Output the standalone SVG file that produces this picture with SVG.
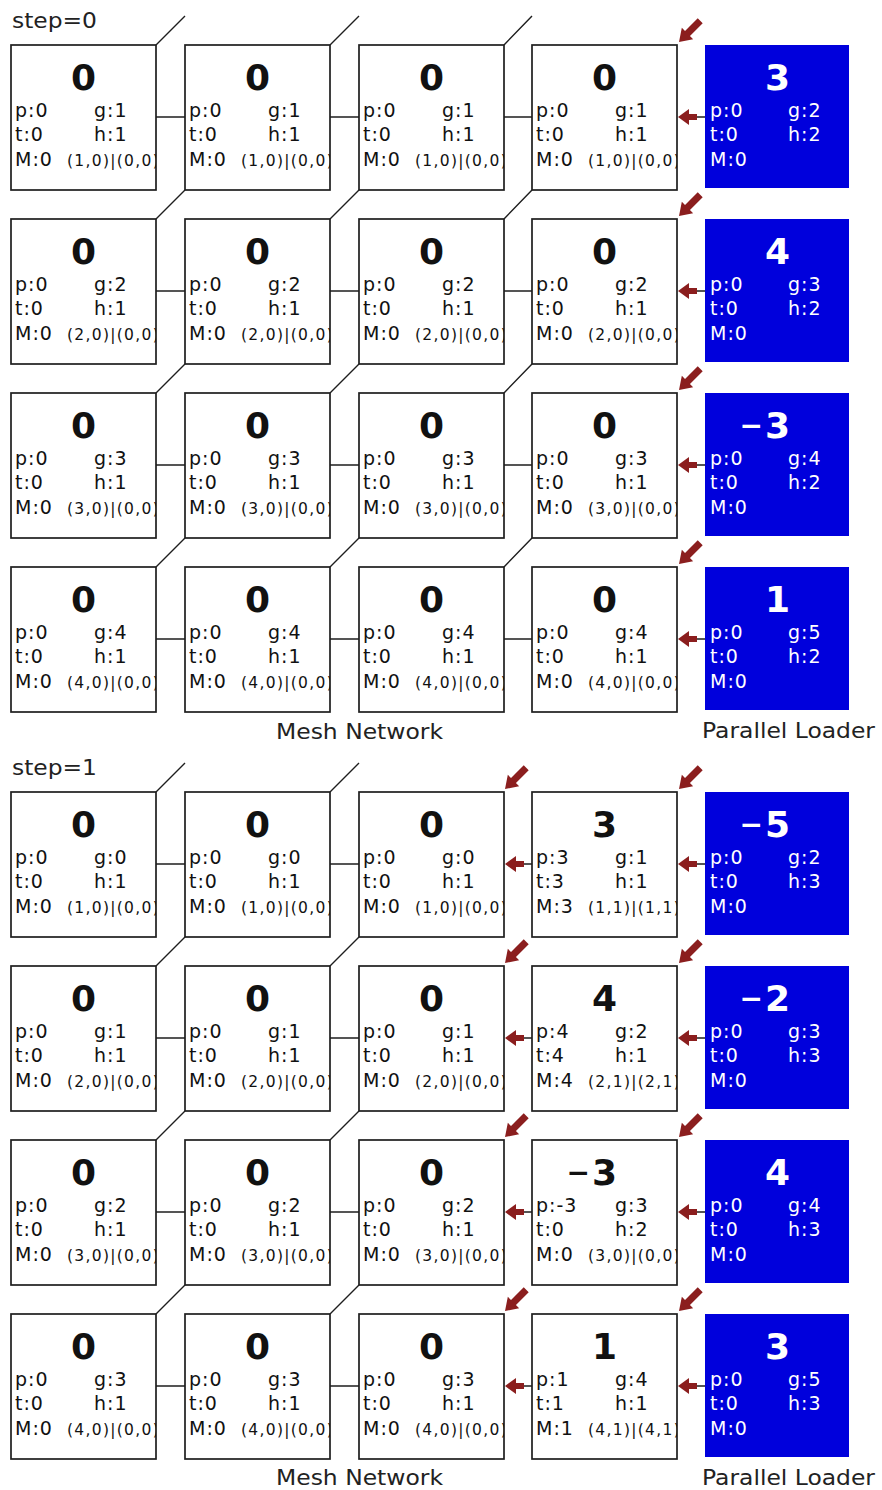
<svg xmlns="http://www.w3.org/2000/svg" xmlns:xlink="http://www.w3.org/1999/xlink" width="882" height="1490" viewBox="0 0 882 1490">
<style>
.box{fill:#fff;stroke:#1e1e1e;stroke-width:1.7}
.ld{fill:#0000dc}
.big{font-family:"DejaVu Sans",sans-serif;font-weight:bold;font-size:36px;text-anchor:end;fill:#111}
.mn{font-size:28px}
.t{font-family:"DejaVu Sans",sans-serif;font-size:19px;letter-spacing:1px;fill:#111}
.c{font-family:"DejaVu Sans",sans-serif;font-size:15.5px;letter-spacing:1.3px;fill:#111}
.w{fill:#fff}
.lbl{font-family:"DejaVu Sans",sans-serif;font-size:21px;fill:#222}
.ln{stroke:#1e1e1e;stroke-width:1.4;fill:none}
</style>
<defs>
<clipPath id="cl"><rect x="0" y="0" width="145" height="145"/></clipPath>
<path id="ah" fill="#8b1e1e" d="M0,0 L11,-8 L11,-3 L19,-3 L19,3 L11,3 L11,8Z"/>
<path id="ad" fill="#8b1e1e" d="M0,0 L12,-8 L12,-3.5 L30,-3.5 L30,3.5 L12,3.5 L12,8Z"/>
</defs>
<rect width="882" height="1490" fill="#fff"/>

<text class="lbl" x="12" y="28" textLength="85" lengthAdjust="spacingAndGlyphs">step=0</text>
<text class="lbl" x="12" y="775" textLength="85" lengthAdjust="spacingAndGlyphs">step=1</text>
<text class="lbl" x="276" y="739" textLength="167" lengthAdjust="spacingAndGlyphs">Mesh Network</text>
<text class="lbl" x="702" y="738" textLength="173" lengthAdjust="spacingAndGlyphs">Parallel Loader</text>
<text class="lbl" x="276" y="1485" textLength="167" lengthAdjust="spacingAndGlyphs">Mesh Network</text>
<text class="lbl" x="702" y="1485" textLength="173" lengthAdjust="spacingAndGlyphs">Parallel Loader</text>

<g id="connectors">
<path class="ln" d="M156,117H185 M330,117H359 M504,117H532 M156,45L185,16 M330,45L359,16 M504,45L532,16 M697,117H705
M156,291H185 M330,291H359 M504,291H532 M156,219L185,190 M330,219L359,190 M504,219L532,190 M697,291H705
M156,465H185 M330,465H359 M504,465H532 M156,393L185,364 M330,393L359,364 M504,393L532,364 M697,465H705
M156,639H185 M330,639H359 M504,639H532 M156,567L185,538 M330,567L359,538 M504,567L532,538 M697,639H705"/>
<path class="ln" d="M156,864H185 M330,864H359 M524,864H532 M697,864H705 M156,792L185,763 M330,792L359,763
M156,1038H185 M330,1038H359 M524,1038H532 M697,1038H705 M156,966L185,937 M330,966L359,937
M156,1212H185 M330,1212H359 M524,1212H532 M697,1212H705 M156,1140L185,1111 M330,1140L359,1111
M156,1386H185 M330,1386H359 M524,1386H532 M697,1386H705 M156,1314L185,1285 M330,1314L359,1285"/>
<use xlink:href="#ad" transform="translate(679,42) rotate(-45)"/>
<use xlink:href="#ad" transform="translate(679,216) rotate(-45)"/>
<use xlink:href="#ad" transform="translate(679,390) rotate(-45)"/>
<use xlink:href="#ad" transform="translate(679,564) rotate(-45)"/>
<use xlink:href="#ah" transform="translate(678,117)"/>
<use xlink:href="#ah" transform="translate(678,291)"/>
<use xlink:href="#ah" transform="translate(678,465)"/>
<use xlink:href="#ah" transform="translate(678,639)"/>
<use xlink:href="#ad" transform="translate(505,789) rotate(-45)"/>
<use xlink:href="#ad" transform="translate(679,789) rotate(-45)"/>
<use xlink:href="#ad" transform="translate(505,963) rotate(-45)"/>
<use xlink:href="#ad" transform="translate(679,963) rotate(-45)"/>
<use xlink:href="#ad" transform="translate(505,1137) rotate(-45)"/>
<use xlink:href="#ad" transform="translate(679,1137) rotate(-45)"/>
<use xlink:href="#ad" transform="translate(505,1311) rotate(-45)"/>
<use xlink:href="#ad" transform="translate(679,1311) rotate(-45)"/>
<use xlink:href="#ah" transform="translate(505,864)"/>
<use xlink:href="#ah" transform="translate(678,864)"/>
<use xlink:href="#ah" transform="translate(505,1038)"/>
<use xlink:href="#ah" transform="translate(678,1038)"/>
<use xlink:href="#ah" transform="translate(505,1212)"/>
<use xlink:href="#ah" transform="translate(678,1212)"/>
<use xlink:href="#ah" transform="translate(505,1386)"/>
<use xlink:href="#ah" transform="translate(678,1386)"/>
</g>

<!-- step 0 -->
<g id="s0-r0-c0" transform="translate(11,45)"><rect class="box" width="145" height="145"/><text class="big" x="85" y="45">0</text><text class="t" x="4" y="72">p:0</text><text class="t" x="83" y="72">g:1</text><text class="t" x="4" y="96">t:0</text><text class="t" x="83" y="96">h:1</text><text class="t" x="4" y="120.5">M:0</text><text class="c" x="56" y="120.5" clip-path="url(#cl)">(1,0)|(0,0)</text></g>
<g id="s0-r0-c1" transform="translate(185,45)"><rect class="box" width="145" height="145"/><text class="big" x="85" y="45">0</text><text class="t" x="4" y="72">p:0</text><text class="t" x="83" y="72">g:1</text><text class="t" x="4" y="96">t:0</text><text class="t" x="83" y="96">h:1</text><text class="t" x="4" y="120.5">M:0</text><text class="c" x="56" y="120.5" clip-path="url(#cl)">(1,0)|(0,0)</text></g>
<g id="s0-r0-c2" transform="translate(359,45)"><rect class="box" width="145" height="145"/><text class="big" x="85" y="45">0</text><text class="t" x="4" y="72">p:0</text><text class="t" x="83" y="72">g:1</text><text class="t" x="4" y="96">t:0</text><text class="t" x="83" y="96">h:1</text><text class="t" x="4" y="120.5">M:0</text><text class="c" x="56" y="120.5" clip-path="url(#cl)">(1,0)|(0,0)</text></g>
<g id="s0-r0-c3" transform="translate(532,45)"><rect class="box" width="145" height="145"/><text class="big" x="85" y="45">0</text><text class="t" x="4" y="72">p:0</text><text class="t" x="83" y="72">g:1</text><text class="t" x="4" y="96">t:0</text><text class="t" x="83" y="96">h:1</text><text class="t" x="4" y="120.5">M:0</text><text class="c" x="56" y="120.5" clip-path="url(#cl)">(1,0)|(0,0)</text></g>
<g id="s0-r0-ld" transform="translate(705,45)"><rect class="ld" width="144" height="143"/><text class="big w" x="85" y="45">3</text><text class="t w" x="5" y="72">p:0</text><text class="t w" x="83" y="72">g:2</text><text class="t w" x="5" y="96">t:0</text><text class="t w" x="83" y="96">h:2</text><text class="t w" x="5" y="120.5">M:0</text></g>

<g id="s0-r1-c0" transform="translate(11,219)"><rect class="box" width="145" height="145"/><text class="big" x="85" y="45">0</text><text class="t" x="4" y="72">p:0</text><text class="t" x="83" y="72">g:2</text><text class="t" x="4" y="96">t:0</text><text class="t" x="83" y="96">h:1</text><text class="t" x="4" y="120.5">M:0</text><text class="c" x="56" y="120.5" clip-path="url(#cl)">(2,0)|(0,0)</text></g>
<g id="s0-r1-c1" transform="translate(185,219)"><rect class="box" width="145" height="145"/><text class="big" x="85" y="45">0</text><text class="t" x="4" y="72">p:0</text><text class="t" x="83" y="72">g:2</text><text class="t" x="4" y="96">t:0</text><text class="t" x="83" y="96">h:1</text><text class="t" x="4" y="120.5">M:0</text><text class="c" x="56" y="120.5" clip-path="url(#cl)">(2,0)|(0,0)</text></g>
<g id="s0-r1-c2" transform="translate(359,219)"><rect class="box" width="145" height="145"/><text class="big" x="85" y="45">0</text><text class="t" x="4" y="72">p:0</text><text class="t" x="83" y="72">g:2</text><text class="t" x="4" y="96">t:0</text><text class="t" x="83" y="96">h:1</text><text class="t" x="4" y="120.5">M:0</text><text class="c" x="56" y="120.5" clip-path="url(#cl)">(2,0)|(0,0)</text></g>
<g id="s0-r1-c3" transform="translate(532,219)"><rect class="box" width="145" height="145"/><text class="big" x="85" y="45">0</text><text class="t" x="4" y="72">p:0</text><text class="t" x="83" y="72">g:2</text><text class="t" x="4" y="96">t:0</text><text class="t" x="83" y="96">h:1</text><text class="t" x="4" y="120.5">M:0</text><text class="c" x="56" y="120.5" clip-path="url(#cl)">(2,0)|(0,0)</text></g>
<g id="s0-r1-ld" transform="translate(705,219)"><rect class="ld" width="144" height="143"/><text class="big w" x="85" y="45">4</text><text class="t w" x="5" y="72">p:0</text><text class="t w" x="83" y="72">g:3</text><text class="t w" x="5" y="96">t:0</text><text class="t w" x="83" y="96">h:2</text><text class="t w" x="5" y="120.5">M:0</text></g>

<g id="s0-r2-c0" transform="translate(11,393)"><rect class="box" width="145" height="145"/><text class="big" x="85" y="45">0</text><text class="t" x="4" y="72">p:0</text><text class="t" x="83" y="72">g:3</text><text class="t" x="4" y="96">t:0</text><text class="t" x="83" y="96">h:1</text><text class="t" x="4" y="120.5">M:0</text><text class="c" x="56" y="120.5" clip-path="url(#cl)">(3,0)|(0,0)</text></g>
<g id="s0-r2-c1" transform="translate(185,393)"><rect class="box" width="145" height="145"/><text class="big" x="85" y="45">0</text><text class="t" x="4" y="72">p:0</text><text class="t" x="83" y="72">g:3</text><text class="t" x="4" y="96">t:0</text><text class="t" x="83" y="96">h:1</text><text class="t" x="4" y="120.5">M:0</text><text class="c" x="56" y="120.5" clip-path="url(#cl)">(3,0)|(0,0)</text></g>
<g id="s0-r2-c2" transform="translate(359,393)"><rect class="box" width="145" height="145"/><text class="big" x="85" y="45">0</text><text class="t" x="4" y="72">p:0</text><text class="t" x="83" y="72">g:3</text><text class="t" x="4" y="96">t:0</text><text class="t" x="83" y="96">h:1</text><text class="t" x="4" y="120.5">M:0</text><text class="c" x="56" y="120.5" clip-path="url(#cl)">(3,0)|(0,0)</text></g>
<g id="s0-r2-c3" transform="translate(532,393)"><rect class="box" width="145" height="145"/><text class="big" x="85" y="45">0</text><text class="t" x="4" y="72">p:0</text><text class="t" x="83" y="72">g:3</text><text class="t" x="4" y="96">t:0</text><text class="t" x="83" y="96">h:1</text><text class="t" x="4" y="120.5">M:0</text><text class="c" x="56" y="120.5" clip-path="url(#cl)">(3,0)|(0,0)</text></g>
<g id="s0-r2-ld" transform="translate(705,393)"><rect class="ld" width="144" height="143"/><text class="big w" x="85" y="45"><tspan class="mn" dy="-3">−</tspan><tspan dy="3" dx="2">3</tspan></text><text class="t w" x="5" y="72">p:0</text><text class="t w" x="83" y="72">g:4</text><text class="t w" x="5" y="96">t:0</text><text class="t w" x="83" y="96">h:2</text><text class="t w" x="5" y="120.5">M:0</text></g>

<g id="s0-r3-c0" transform="translate(11,567)"><rect class="box" width="145" height="145"/><text class="big" x="85" y="45">0</text><text class="t" x="4" y="72">p:0</text><text class="t" x="83" y="72">g:4</text><text class="t" x="4" y="96">t:0</text><text class="t" x="83" y="96">h:1</text><text class="t" x="4" y="120.5">M:0</text><text class="c" x="56" y="120.5" clip-path="url(#cl)">(4,0)|(0,0)</text></g>
<g id="s0-r3-c1" transform="translate(185,567)"><rect class="box" width="145" height="145"/><text class="big" x="85" y="45">0</text><text class="t" x="4" y="72">p:0</text><text class="t" x="83" y="72">g:4</text><text class="t" x="4" y="96">t:0</text><text class="t" x="83" y="96">h:1</text><text class="t" x="4" y="120.5">M:0</text><text class="c" x="56" y="120.5" clip-path="url(#cl)">(4,0)|(0,0)</text></g>
<g id="s0-r3-c2" transform="translate(359,567)"><rect class="box" width="145" height="145"/><text class="big" x="85" y="45">0</text><text class="t" x="4" y="72">p:0</text><text class="t" x="83" y="72">g:4</text><text class="t" x="4" y="96">t:0</text><text class="t" x="83" y="96">h:1</text><text class="t" x="4" y="120.5">M:0</text><text class="c" x="56" y="120.5" clip-path="url(#cl)">(4,0)|(0,0)</text></g>
<g id="s0-r3-c3" transform="translate(532,567)"><rect class="box" width="145" height="145"/><text class="big" x="85" y="45">0</text><text class="t" x="4" y="72">p:0</text><text class="t" x="83" y="72">g:4</text><text class="t" x="4" y="96">t:0</text><text class="t" x="83" y="96">h:1</text><text class="t" x="4" y="120.5">M:0</text><text class="c" x="56" y="120.5" clip-path="url(#cl)">(4,0)|(0,0)</text></g>
<g id="s0-r3-ld" transform="translate(705,567)"><rect class="ld" width="144" height="143"/><text class="big w" x="85" y="45">1</text><text class="t w" x="5" y="72">p:0</text><text class="t w" x="83" y="72">g:5</text><text class="t w" x="5" y="96">t:0</text><text class="t w" x="83" y="96">h:2</text><text class="t w" x="5" y="120.5">M:0</text></g>

<!-- step 1 -->
<g id="s1-r0-c0" transform="translate(11,792)"><rect class="box" width="145" height="145"/><text class="big" x="85" y="45">0</text><text class="t" x="4" y="72">p:0</text><text class="t" x="83" y="72">g:0</text><text class="t" x="4" y="96">t:0</text><text class="t" x="83" y="96">h:1</text><text class="t" x="4" y="120.5">M:0</text><text class="c" x="56" y="120.5" clip-path="url(#cl)">(1,0)|(0,0)</text></g>
<g id="s1-r0-c1" transform="translate(185,792)"><rect class="box" width="145" height="145"/><text class="big" x="85" y="45">0</text><text class="t" x="4" y="72">p:0</text><text class="t" x="83" y="72">g:0</text><text class="t" x="4" y="96">t:0</text><text class="t" x="83" y="96">h:1</text><text class="t" x="4" y="120.5">M:0</text><text class="c" x="56" y="120.5" clip-path="url(#cl)">(1,0)|(0,0)</text></g>
<g id="s1-r0-c2" transform="translate(359,792)"><rect class="box" width="145" height="145"/><text class="big" x="85" y="45">0</text><text class="t" x="4" y="72">p:0</text><text class="t" x="83" y="72">g:0</text><text class="t" x="4" y="96">t:0</text><text class="t" x="83" y="96">h:1</text><text class="t" x="4" y="120.5">M:0</text><text class="c" x="56" y="120.5" clip-path="url(#cl)">(1,0)|(0,0)</text></g>
<g id="s1-r0-c3" transform="translate(532,792)"><rect class="box" width="145" height="145"/><text class="big" x="85" y="45">3</text><text class="t" x="4" y="72">p:3</text><text class="t" x="83" y="72">g:1</text><text class="t" x="4" y="96">t:3</text><text class="t" x="83" y="96">h:1</text><text class="t" x="4" y="120.5">M:3</text><text class="c" x="56" y="120.5" clip-path="url(#cl)">(1,1)|(1,1)</text></g>
<g id="s1-r0-ld" transform="translate(705,792)"><rect class="ld" width="144" height="143"/><text class="big w" x="85" y="45"><tspan class="mn" dy="-3">−</tspan><tspan dy="3" dx="2">5</tspan></text><text class="t w" x="5" y="72">p:0</text><text class="t w" x="83" y="72">g:2</text><text class="t w" x="5" y="96">t:0</text><text class="t w" x="83" y="96">h:3</text><text class="t w" x="5" y="120.5">M:0</text></g>

<g id="s1-r1-c0" transform="translate(11,966)"><rect class="box" width="145" height="145"/><text class="big" x="85" y="45">0</text><text class="t" x="4" y="72">p:0</text><text class="t" x="83" y="72">g:1</text><text class="t" x="4" y="96">t:0</text><text class="t" x="83" y="96">h:1</text><text class="t" x="4" y="120.5">M:0</text><text class="c" x="56" y="120.5" clip-path="url(#cl)">(2,0)|(0,0)</text></g>
<g id="s1-r1-c1" transform="translate(185,966)"><rect class="box" width="145" height="145"/><text class="big" x="85" y="45">0</text><text class="t" x="4" y="72">p:0</text><text class="t" x="83" y="72">g:1</text><text class="t" x="4" y="96">t:0</text><text class="t" x="83" y="96">h:1</text><text class="t" x="4" y="120.5">M:0</text><text class="c" x="56" y="120.5" clip-path="url(#cl)">(2,0)|(0,0)</text></g>
<g id="s1-r1-c2" transform="translate(359,966)"><rect class="box" width="145" height="145"/><text class="big" x="85" y="45">0</text><text class="t" x="4" y="72">p:0</text><text class="t" x="83" y="72">g:1</text><text class="t" x="4" y="96">t:0</text><text class="t" x="83" y="96">h:1</text><text class="t" x="4" y="120.5">M:0</text><text class="c" x="56" y="120.5" clip-path="url(#cl)">(2,0)|(0,0)</text></g>
<g id="s1-r1-c3" transform="translate(532,966)"><rect class="box" width="145" height="145"/><text class="big" x="85" y="45">4</text><text class="t" x="4" y="72">p:4</text><text class="t" x="83" y="72">g:2</text><text class="t" x="4" y="96">t:4</text><text class="t" x="83" y="96">h:1</text><text class="t" x="4" y="120.5">M:4</text><text class="c" x="56" y="120.5" clip-path="url(#cl)">(2,1)|(2,1)</text></g>
<g id="s1-r1-ld" transform="translate(705,966)"><rect class="ld" width="144" height="143"/><text class="big w" x="85" y="45"><tspan class="mn" dy="-3">−</tspan><tspan dy="3" dx="2">2</tspan></text><text class="t w" x="5" y="72">p:0</text><text class="t w" x="83" y="72">g:3</text><text class="t w" x="5" y="96">t:0</text><text class="t w" x="83" y="96">h:3</text><text class="t w" x="5" y="120.5">M:0</text></g>

<g id="s1-r2-c0" transform="translate(11,1140)"><rect class="box" width="145" height="145"/><text class="big" x="85" y="45">0</text><text class="t" x="4" y="72">p:0</text><text class="t" x="83" y="72">g:2</text><text class="t" x="4" y="96">t:0</text><text class="t" x="83" y="96">h:1</text><text class="t" x="4" y="120.5">M:0</text><text class="c" x="56" y="120.5" clip-path="url(#cl)">(3,0)|(0,0)</text></g>
<g id="s1-r2-c1" transform="translate(185,1140)"><rect class="box" width="145" height="145"/><text class="big" x="85" y="45">0</text><text class="t" x="4" y="72">p:0</text><text class="t" x="83" y="72">g:2</text><text class="t" x="4" y="96">t:0</text><text class="t" x="83" y="96">h:1</text><text class="t" x="4" y="120.5">M:0</text><text class="c" x="56" y="120.5" clip-path="url(#cl)">(3,0)|(0,0)</text></g>
<g id="s1-r2-c2" transform="translate(359,1140)"><rect class="box" width="145" height="145"/><text class="big" x="85" y="45">0</text><text class="t" x="4" y="72">p:0</text><text class="t" x="83" y="72">g:2</text><text class="t" x="4" y="96">t:0</text><text class="t" x="83" y="96">h:1</text><text class="t" x="4" y="120.5">M:0</text><text class="c" x="56" y="120.5" clip-path="url(#cl)">(3,0)|(0,0)</text></g>
<g id="s1-r2-c3" transform="translate(532,1140)"><rect class="box" width="145" height="145"/><text class="big" x="85" y="45"><tspan class="mn" dy="-3">−</tspan><tspan dy="3" dx="2">3</tspan></text><text class="t" x="4" y="72">p:-3</text><text class="t" x="83" y="72">g:3</text><text class="t" x="4" y="96">t:0</text><text class="t" x="83" y="96">h:2</text><text class="t" x="4" y="120.5">M:0</text><text class="c" x="56" y="120.5" clip-path="url(#cl)">(3,0)|(0,0)</text></g>
<g id="s1-r2-ld" transform="translate(705,1140)"><rect class="ld" width="144" height="143"/><text class="big w" x="85" y="45">4</text><text class="t w" x="5" y="72">p:0</text><text class="t w" x="83" y="72">g:4</text><text class="t w" x="5" y="96">t:0</text><text class="t w" x="83" y="96">h:3</text><text class="t w" x="5" y="120.5">M:0</text></g>

<g id="s1-r3-c0" transform="translate(11,1314)"><rect class="box" width="145" height="145"/><text class="big" x="85" y="45">0</text><text class="t" x="4" y="72">p:0</text><text class="t" x="83" y="72">g:3</text><text class="t" x="4" y="96">t:0</text><text class="t" x="83" y="96">h:1</text><text class="t" x="4" y="120.5">M:0</text><text class="c" x="56" y="120.5" clip-path="url(#cl)">(4,0)|(0,0)</text></g>
<g id="s1-r3-c1" transform="translate(185,1314)"><rect class="box" width="145" height="145"/><text class="big" x="85" y="45">0</text><text class="t" x="4" y="72">p:0</text><text class="t" x="83" y="72">g:3</text><text class="t" x="4" y="96">t:0</text><text class="t" x="83" y="96">h:1</text><text class="t" x="4" y="120.5">M:0</text><text class="c" x="56" y="120.5" clip-path="url(#cl)">(4,0)|(0,0)</text></g>
<g id="s1-r3-c2" transform="translate(359,1314)"><rect class="box" width="145" height="145"/><text class="big" x="85" y="45">0</text><text class="t" x="4" y="72">p:0</text><text class="t" x="83" y="72">g:3</text><text class="t" x="4" y="96">t:0</text><text class="t" x="83" y="96">h:1</text><text class="t" x="4" y="120.5">M:0</text><text class="c" x="56" y="120.5" clip-path="url(#cl)">(4,0)|(0,0)</text></g>
<g id="s1-r3-c3" transform="translate(532,1314)"><rect class="box" width="145" height="145"/><text class="big" x="85" y="45">1</text><text class="t" x="4" y="72">p:1</text><text class="t" x="83" y="72">g:4</text><text class="t" x="4" y="96">t:1</text><text class="t" x="83" y="96">h:1</text><text class="t" x="4" y="120.5">M:1</text><text class="c" x="56" y="120.5" clip-path="url(#cl)">(4,1)|(4,1)</text></g>
<g id="s1-r3-ld" transform="translate(705,1314)"><rect class="ld" width="144" height="143"/><text class="big w" x="85" y="45">3</text><text class="t w" x="5" y="72">p:0</text><text class="t w" x="83" y="72">g:5</text><text class="t w" x="5" y="96">t:0</text><text class="t w" x="83" y="96">h:3</text><text class="t w" x="5" y="120.5">M:0</text></g>
</svg>
